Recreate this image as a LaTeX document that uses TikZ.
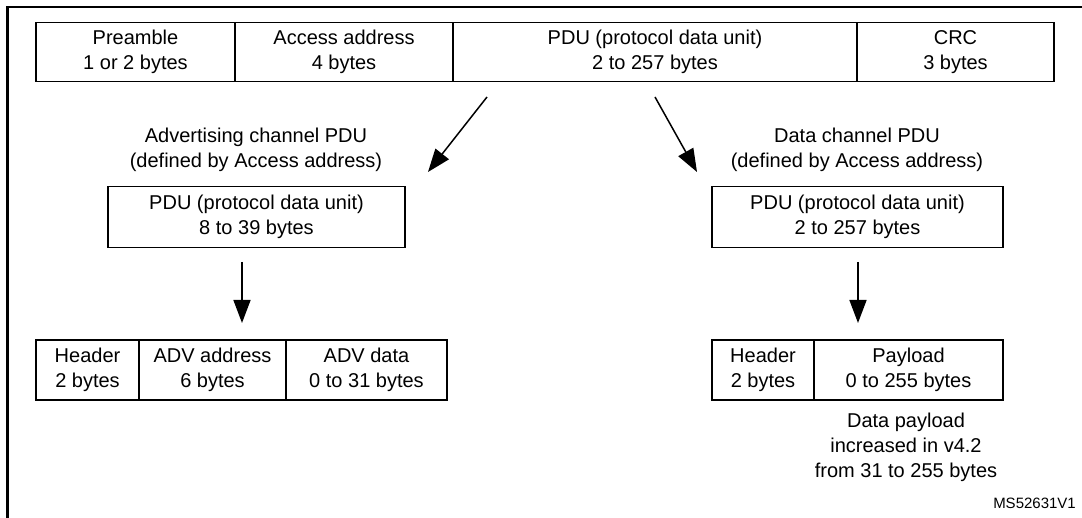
\documentclass[tikz,border=0pt]{standalone}
\usepackage{fontspec}
\setmainfont{Liberation Sans}
\usetikzlibrary{arrows.meta}
\begin{document}
\begin{tikzpicture}[x=1pt,y=-1pt,
  cell/.style={draw, line width=1.4pt, rectangle, inner sep=0pt, align=center,
    font=\fontsize{20}{25}\selectfont, minimum height=59pt},
  lbl/.style={inner sep=0pt, align=center, font=\fontsize{20}{25}\selectfont},
  arr/.style={line width=1.5pt, -{Triangle[length=23pt,width=17pt]}},
  frame/.style={line width=2.6pt}
]
\useasboundingbox (0,0) rectangle (1082,518);
% frame
\coordinate (ftr) at (1082,7);
\coordinate (ftl) at (7.5,7);
\coordinate (fbl) at (7.5,518);
\draw[frame] (ftr) -- (ftl) -- (fbl);
% top packet
\node[cell, minimum width=199pt] (pre) at (135.5,52) {Preamble\\1 or 2 bytes};
\node[cell, minimum width=218pt] (acc) at (344,52) {Access address\\4 bytes};
\node[cell, minimum width=404pt] (pdu) at (655,52) {PDU (protocol data unit)\\2 to 257 bytes};
\node[cell, minimum width=197pt] (crc) at (955.5,52) {CRC\\3 bytes};
% labels
\node[lbl] (advl) at (256,150) {Advertising channel PDU\\(defined by Access address)};
\node[lbl] (datl) at (857,150) {Data channel PDU\\(defined by Access address)};
% pdu boxes
\node[cell, minimum width=297pt, minimum height=61pt] (advpdu) at (256.5,217) {PDU (protocol data unit)\\8 to 39 bytes};
\node[cell, minimum width=291pt, minimum height=61pt] (datpdu) at (857.5,217) {PDU (protocol data unit)\\2 to 257 bytes};
% bottom left table
\node[cell, minimum width=103pt, minimum height=60pt] (hdr1) at (87.5,370) {Header\\2 bytes};
\node[cell, minimum width=147pt, minimum height=60pt] (advaddr) at (212.5,370) {ADV address\\6 bytes};
\node[cell, minimum width=161pt, minimum height=60pt] (advdata) at (366.5,370) {ADV data\\0 to 31 bytes};
% bottom right table
\node[cell, minimum width=102pt, minimum height=60pt] (hdr2) at (763,370) {Header\\2 bytes};
\node[cell, minimum width=189pt, minimum height=60pt] (payload) at (908.5,370) {Payload\\0 to 255 bytes};
% note
\node[lbl] (note) at (906,447) {Data payload\\increased in v4.2\\from 31 to 255 bytes};
\node[inner sep=0pt, anchor=east, font=\fontsize{15}{18}\selectfont] (ms) at (1076,503) {MS52631V1};
% arrows
\coordinate (l1) at (487,97);
\coordinate (l2) at (428,172);
\coordinate (r1) at (655,97);
\coordinate (r2) at (697,172);
\coordinate (d1s) at (242,262);
\coordinate (d1e) at (242,323);
\coordinate (d2s) at (858,262);
\coordinate (d2e) at (858,323);
\draw[arr] (l1) -- (l2);
\draw[arr] (r1) -- (r2);
\draw[arr] (d1s) -- (d1e);
\draw[arr] (d2s) -- (d2e);
\end{tikzpicture}
\end{document}
